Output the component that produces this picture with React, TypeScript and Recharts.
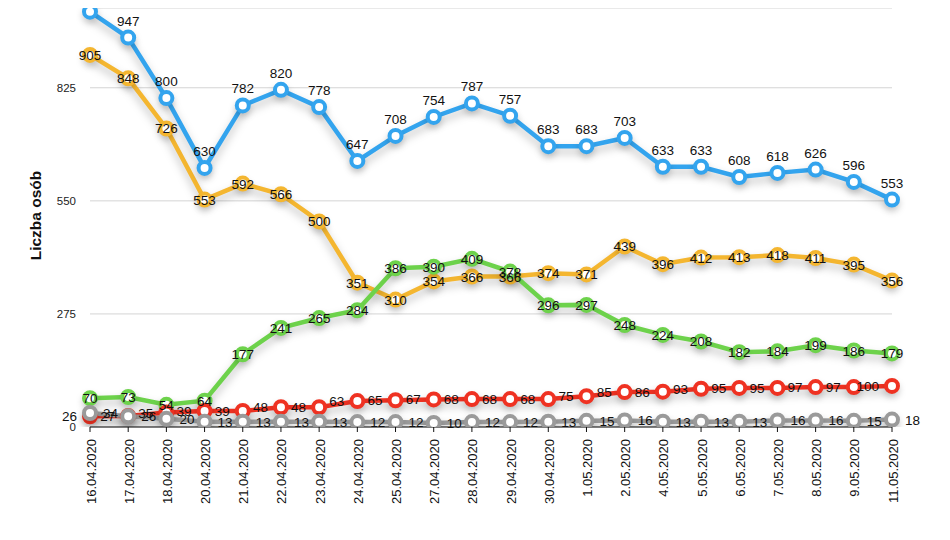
import React from 'react';
import { LineChart, Line, XAxis, YAxis, CartesianGrid } from 'recharts';

const dates = [
  '16.04.2020', '17.04.2020', '18.04.2020', '20.04.2020', '21.04.2020', '22.04.2020',
  '23.04.2020', '24.04.2020', '25.04.2020', '27.04.2020', '28.04.2020', '29.04.2020',
  '30.04.2020', '1.05.2020', '2.05.2020', '4.05.2020', '5.05.2020', '6.05.2020',
  '7.05.2020', '8.05.2020', '9.05.2020', '11.05.2020',
];
const blueSeries = [1010, 947, 800, 630, 782, 820, 778, 647, 708, 754, 787, 757, 683, 683, 703, 633, 633, 608, 618, 626, 596, 553];
const orangeSeries = [905, 848, 726, 553, 592, 566, 500, 351, 310, 354, 366, 366, 374, 371, 439, 396, 412, 413, 418, 411, 395, 356];
const greenSeries = [70, 73, 54, 64, 177, 241, 265, 284, 386, 390, 409, 378, 296, 297, 248, 224, 208, 182, 184, 199, 186, 179];
const redSeries = [26, 27, 35, 39, 39, 48, 48, 63, 65, 67, 68, 68, 68, 75, 85, 86, 93, 95, 95, 97, 97, 100];
const graySeries = [34, 26, 20, 13, 13, 13, 13, 12, 12, 10, 12, 12, 13, 15, 16, 13, 13, 13, 16, 16, 15, 18];
const yTicks = [0, 275, 550, 825];
const yLabel = 'Liczba osób';

const data = dates.map((d, i) => ({
  date: d,
  blue: blueSeries[i],
  orange: orangeSeries[i],
  green: greenSeries[i],
  red: redSeries[i],
  gray: graySeries[i],
}));

const FONT = '"Liberation Sans", Arial, Helvetica, sans-serif';

const mkLabel = (dx: number, dy: number, anchor: string) => (props: any) => {
  const { x, y, value, index } = props;
  // a label that would fall above the top edge of the picture is not shown (as in the reference)
  if (y + dy - 10 < 0) return <g key={`l-${index}`} />;
  return (
    <text
      key={`l-${index}`}
      x={x + dx}
      y={y + dy}
      textAnchor={anchor}
      fontSize={13.5}
      fontFamily={FONT}
      fill="#111"
    >
      {value}
    </text>
  );
};

const XTick = (props: any) => {
  const { x, y, payload } = props;
  return (
    <g transform={`translate(${x + 1},${y + 5})`}>
      <text transform="rotate(-90)" textAnchor="end" dy={4.5} fontSize={13} fontFamily={FONT} fill="#111">
        {payload.value}
      </text>
    </g>
  );
};

const YTitle = (props: any) => {
  const vb = props.viewBox || {};
  const cx = 27;
  const cy = (vb.y || 0) + (vb.height || 0) / 2 - 2;
  return (
    <text
      x={cx}
      y={cy}
      transform={`rotate(-90, ${cx}, ${cy})`}
      textAnchor="middle"
      dominantBaseline="central"
      fontSize={15.5}
      fontWeight="bold"
      fontFamily={FONT}
      fill="#111"
    >
      {yLabel}
    </text>
  );
};

const dot = (color: string) => ({ r: 6, fill: '#fff', stroke: color, strokeWidth: 4 });

const BLUE = '#33a4ee';
const ORANGE = '#f4b630';
const GREEN = '#6dd24b';
const RED = '#ef3222';
const GRAY = '#9a9a9a';

export default function App() {
  return (
    <div style={{ width: 930, height: 520 }}>
      <style>{`.recharts-line-curve { filter: drop-shadow(0px 5px 4px rgba(0,0,0,0.25)); }
      .recharts-line-dots { filter: drop-shadow(0px 4px 3px rgba(0,0,0,0.18)); }`}</style>
      <LineChart width={930} height={520} data={data} margin={{ top: 0, right: 46, bottom: 0, left: 0 }}>
        <CartesianGrid vertical={false} stroke="#d4d4d4" strokeWidth={1} />
        <XAxis
          dataKey="date"
          interval={0}
          tick={<XTick />}
          tickSize={5}
          tickLine={{ stroke: '#111' }}
          axisLine={{ stroke: '#111', strokeWidth: 1 }}
          height={101}
        />
        <YAxis
          domain={[0, 1019]}
          ticks={yTicks}
          allowDataOverflow
          width={82}
          tickLine={false}
          axisLine={false}
          tickSize={0}
          tickMargin={14}
          tick={{ fontSize: 11.5, fill: '#222', fontFamily: FONT }}
          label={{ content: <YTitle /> } as any}
        />
        <Line dataKey="orange" stroke={ORANGE} strokeWidth={4.5} dot={dot(ORANGE)} isAnimationActive={false} label={mkLabel(0, 5, 'middle')} />
        <Line dataKey="blue" stroke={BLUE} strokeWidth={4.5} dot={dot(BLUE)} isAnimationActive={false} label={mkLabel(0, -12, 'middle')} />
        <Line dataKey="green" stroke={GREEN} strokeWidth={4.5} dot={dot(GREEN)} isAnimationActive={false} label={mkLabel(0, 5, 'middle')} />
        <Line dataKey="red" stroke={RED} strokeWidth={4.5} dot={dot(RED)} isAnimationActive={false} label={mkLabel(-13, 5, 'end')} />
        <Line dataKey="gray" stroke={GRAY} strokeWidth={4.5} dot={dot(GRAY)} isAnimationActive={false} label={mkLabel(13, 5, 'start')} />
      </LineChart>
    </div>
  );
}
